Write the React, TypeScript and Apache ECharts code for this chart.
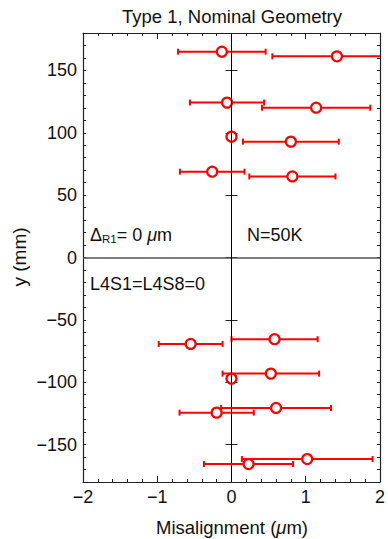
import React, { useEffect, useRef } from 'react';
import * as echarts from 'echarts';

// Sensor positions along the stave (mm) and fitted misalignments (μm) with half-widths of the error bars
const yPos = [165, 161.3, 124.2, 120.1, 96.9, 92.9, 68.8, 65, -65.5, -69.3, -93.1, -97.1, -120.6, -124.4, -161.6, -165.6];
const misalign = [-0.13, 1.42, -0.06, 1.14, 0.0, 0.8, -0.26, 0.82, 0.58, -0.55, 0.53, 0.0, 0.6, -0.2, 1.02, 0.23];
const errHalf = [0.59, 0.87, 0.5, 0.73, 0, 0.645, 0.435, 0.58, 0.58, 0.43, 0.65, 0, 0.74, 0.5, 0.88, 0.6];

const yMajorTicks = [-150, -100, -50, 0, 50, 100, 150];

const FONT = '"Liberation Sans", Arial, Helvetica, sans-serif';
const RED = '#ff0000';
const FRAME = '#222222';
const INK = '#111111';

const minus = (v: number) => String(v).replace('-', '\u2212');

export default function App() {
  const ref = useRef<HTMLDivElement>(null);

  useEffect(() => {
    const chart = echarts.init(ref.current!, null, { renderer: 'svg' });

    const points = yPos.map((y, i) => [misalign[i], y, errHalf[i]]);

    const baseX = {
      type: 'value',
      min: -2,
      max: 2,
      interval: 1,
      splitLine: { show: false },
      axisLine: { show: true, onZero: false, lineStyle: { color: FRAME, width: 1.2 } },
      axisTick: { show: true, inside: true, length: 6, lineStyle: { color: FRAME, width: 1 } },
      minorTick: { show: true, splitNumber: 5, length: 3, lineStyle: { color: FRAME, width: 1 } },
    };

    const minorY = {
      type: 'value',
      min: -180,
      max: 180,
      interval: 10,
      splitLine: { show: false },
      axisLine: { show: true, onZero: false, lineStyle: { color: FRAME, width: 1.2 } },
      axisTick: { show: true, inside: true, length: 3, lineStyle: { color: FRAME, width: 1 } },
    };

    const majorY = {
      type: 'value',
      min: -180,
      max: 180,
      splitLine: { show: false },
      axisLine: { show: false },
      axisTick: {
        show: true,
        inside: true,
        length: 6,
        customValues: yMajorTicks,
        lineStyle: { color: FRAME, width: 1 },
      },
      axisLabel: { show: false },
    };

    const option = {
      animation: false,
      backgroundColor: '#ffffff',
      grid: { left: 83, right: 6, top: 33, bottom: 57, containLabel: false },
      xAxis: [
        {
          ...baseX,
          position: 'bottom',
          axisLabel: {
            show: true,
            fontSize: 18,
            color: INK,
            fontFamily: FONT,
            margin: 6,
            formatter: (v: number) => minus(v),
          },
        },
        { ...baseX, position: 'top', axisLabel: { show: false } },
      ],
      yAxis: [
        {
          ...minorY,
          position: 'left',
          axisLabel: {
            show: true,
            fontSize: 18,
            color: INK,
            fontFamily: FONT,
            margin: 6,
            formatter: (v: number) => (v % 50 === 0 ? minus(v) : ''),
          },
        },
        { ...minorY, position: 'right', axisLabel: { show: false } },
        { ...majorY, position: 'left' },
        { ...majorY, position: 'right' },
      ],
      series: [
        {
          type: 'custom',
          xAxisIndex: 0,
          yAxisIndex: 0,
          clip: true,
          silent: true,
          z: 2,
          data: points,
          renderItem: (params: any, api: any) => {
            const x = api.value(0);
            const y = api.value(1);
            const e = api.value(2);
            if (!e) return null;
            const p1 = api.coord([x - e, y]);
            const p2 = api.coord([x + e, y]);
            const cap = 3;
            const style = { stroke: RED, lineWidth: 2, fill: 'none' };
            return {
              type: 'group',
              children: [
                { type: 'line', shape: { x1: p1[0], y1: p1[1], x2: p2[0], y2: p2[1] }, style },
                { type: 'line', shape: { x1: p1[0], y1: p1[1] - cap, x2: p1[0], y2: p1[1] + cap }, style },
                { type: 'line', shape: { x1: p2[0], y1: p2[1] - cap, x2: p2[0], y2: p2[1] + cap }, style },
              ],
            };
          },
        },
        {
          type: 'scatter',
          xAxisIndex: 0,
          yAxisIndex: 0,
          z: 3,
          symbol: 'circle',
          symbolSize: 10,
          itemStyle: { color: '#ffffff', borderColor: RED, borderWidth: 2.2, opacity: 1 },
          data: points.map((p) => [p[0], p[1]]),
          markLine: {
            silent: true,
            symbol: 'none',
            label: { show: false },
            animation: false,
            data: [
              { yAxis: 0, lineStyle: { color: '#555555', width: 1.5, type: 'solid' } },
              { xAxis: 0, lineStyle: { color: '#000000', width: 1, type: 'solid' } },
            ],
          },
        },
      ],
      graphic: [
        {
          type: 'text',
          x: 232,
          y: 16,
          style: {
            text: 'Type 1, Nominal Geometry',
            fontSize: 18.5,
            fontFamily: FONT,
            fill: INK,
            align: 'center',
            verticalAlign: 'middle',
          },
        },
        {
          type: 'text',
          x: 232,
          y: 527,
          style: {
            text: '{n|Misalignment (}{i|μ}{n|m)}',
            rich: {
              n: { fontSize: 18.5, fontFamily: FONT, fill: INK },
              i: { fontSize: 18.5, fontFamily: FONT, fill: INK, fontStyle: 'italic' },
            },
            align: 'center',
            verticalAlign: 'middle',
          },
        },
        {
          type: 'text',
          x: 19,
          y: 257,
          rotation: Math.PI / 2,
          style: {
            text: 'y (mm)',
            fontSize: 19,
            fontFamily: FONT,
            fill: INK,
            align: 'center',
            verticalAlign: 'middle',
          },
        },
        {
          type: 'text',
          x: 90,
          y: 234.5,
          style: {
            text: '{n|Δ}{s|R1}{n|= 0 }{i|μ}{n|m}',
            rich: {
              n: { fontSize: 18, fontFamily: FONT, fill: INK, lineHeight: 20 },
              i: { fontSize: 18, fontFamily: FONT, fill: INK, fontStyle: 'italic', lineHeight: 20 },
              s: { fontSize: 11.5, fontFamily: FONT, fill: INK, lineHeight: 12, verticalAlign: 'bottom' },
            },
            verticalAlign: 'middle',
          },
        },
        {
          type: 'text',
          x: 247,
          y: 234.5,
          style: {
            text: 'N=50K',
            fontSize: 18,
            fontFamily: FONT,
            fill: INK,
            verticalAlign: 'middle',
          },
        },
        {
          type: 'text',
          x: 90,
          y: 283.5,
          style: {
            text: 'L4S1=L4S8=0',
            fontSize: 18,
            fontFamily: FONT,
            fill: INK,
            verticalAlign: 'middle',
          },
        },
      ],
    };

    chart.setOption(option as any);
    return () => chart.dispose();
  }, []);

  return (
    <div
      ref={ref}
      style={{ position: 'absolute', left: 0, top: 0, width: 388, height: 539 }}
    />
  );
}
